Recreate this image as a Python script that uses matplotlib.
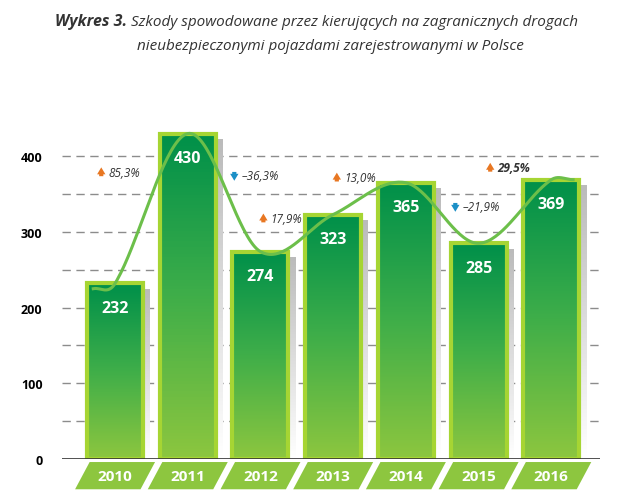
import numpy as np
import matplotlib.pyplot as plt
from matplotlib.patches import Rectangle, Polygon
from matplotlib.colors import LinearSegmentedColormap

years = ['2010', '2011', '2012', '2013', '2014', '2015', '2016']
values = [232, 430, 274, 323, 365, 285, 369]
changes = ['85,3%', '–36,3%', '17,9%', '13,0%', '–21,9%', '29,5%']
change_up = [True, False, True, True, False, True]
change_pos = [(-0.19, 379), (1.64, 374), (2.04, 318), (3.05, 372), (4.68, 333), (5.16, 385)]

plt.rcParams['font.family'] = ['Open Sans', 'DejaVu Sans']

fig = plt.figure(figsize=(6.4, 5.02), dpi=100)
ax = fig.add_axes([62/640, 42/502, 538/640, 333/502])
ax.set_xlim(-0.73, 6.67)
ax.set_ylim(0, 440)

# dashed grid every 50
for g in range(50, 450, 50):
    ax.axhline(g, color='#8c8c8c', lw=1, ls=(0, (6, 4)), zorder=0)
ax.axhline(0, color='#333333', lw=1.2, zorder=5)

grad = LinearSegmentedColormap.from_list('g', ['#8cc63f', '#3fae49', '#00904a'])
shadow = LinearSegmentedColormap.from_list('s', ['#ffffff', '#bbbbbb'])
w = 0.77
xs = np.arange(len(years))
for x, v in zip(xs, values):
    # shadow
    im = ax.imshow(np.linspace(0, 1, 100).reshape(-1, 1), cmap=shadow, aspect='auto',
                   extent=(x - w/2 + 0.1, x + w/2 + 0.1, 0, v - 8), origin='lower', zorder=1)
    # bar gradient
    im = ax.imshow(np.linspace(0, 1, 100).reshape(-1, 1), cmap=grad, aspect='auto',
                   extent=(x - w/2, x + w/2, 0, v), origin='lower', zorder=2)
    ax.add_patch(Rectangle((x - w/2, 0), w, v, fill=False, ec='#a6d533', lw=3, zorder=3))
    ax.text(x, v - 32, str(v), ha='center', va='center', color='white',
            fontsize=11.5, fontweight='bold', zorder=6)
    # year box
    poly = Polygon([(x - 0.55, -40), (x + 0.35, -40), (x + 0.55, -4), (x - 0.35, -4)],
                   closed=True, fc='#8dc63f', ec='none', clip_on=False, zorder=4)
    ax.add_patch(poly)
    ax.text(x, -22, years[x], ha='center', va='center', color='white',
            fontsize=11, fontweight='bold', clip_on=False, zorder=6)

# smooth curve (Catmull-Rom through bar tops)
px = np.concatenate([[-0.3], xs, [6.3]]).astype(float)
py = np.array([225] + values + [values[-1]], dtype=float)
cx, cy = [], []
for i in range(len(px) - 1):
    p0 = max(i - 1, 0); p3 = min(i + 2, len(px) - 1)
    m1 = (py[i + 1] - py[p0]) / (px[i + 1] - px[p0])
    m2 = (py[p3] - py[i]) / (px[p3] - px[i])
    h = px[i + 1] - px[i]
    t = np.linspace(0, 1, 40)
    h00 = 2*t**3 - 3*t**2 + 1; h10 = t**3 - 2*t**2 + t
    h01 = -2*t**3 + 3*t**2; h11 = t**3 - t**2
    cx.append(px[i] + t*h)
    cy.append(h00*py[i] + h10*h*m1 + h01*py[i+1] + h11*h*m2)
ax.plot(np.concatenate(cx), np.concatenate(cy), color='#6cbf4a', lw=2.2, zorder=7)

for (x, y), lab, up in zip(change_pos, changes, change_up):
    col = '#e87722' if up else '#1b8fc6'
    if up:
        ax.annotate('', xy=(x, y + 10), xytext=(x, y - 9),
                    arrowprops=dict(arrowstyle='simple,head_width=0.6,head_length=0.5,tail_width=0.3',
                                    color=col, lw=0), zorder=8)
    else:
        ax.annotate('', xy=(x, y - 10), xytext=(x, y + 9),
                    arrowprops=dict(arrowstyle='simple,head_width=0.6,head_length=0.5,tail_width=0.3',
                                    color=col, lw=0), zorder=8)
    bold = lab == '29,5%'
    ax.text(x + 0.1, y, lab, ha='left', va='center', style='italic', fontsize=8.5,
            color='#333333', fontweight='bold' if bold else 'normal', zorder=8)

ax.set_yticks([0, 100, 200, 300, 400])
ax.tick_params(axis='y', length=0, labelsize=9, pad=14)
for t in ax.get_yticklabels():
    t.set_fontweight('bold')
ax.set_xticks([])
for s in ax.spines.values():
    s.set_visible(False)

fig.text(127/640, 1 - 22/502, 'Wykres 3.', ha='right', va='center', fontsize=11.5,
         style='italic', fontweight='bold', color='#333333')
fig.text(131/640, 1 - 22/502, 'Szkody spowodowane przez kierujących na zagranicznych drogach',
         ha='left', va='center', fontsize=11, style='italic', color='#333333')
fig.text(330/640, 1 - 47/502, 'nieubezpieczonymi pojazdami zarejestrowanymi w Polsce',
         ha='center', va='center', fontsize=11, style='italic', color='#333333')

fig.savefig('out.png', dpi=100)
